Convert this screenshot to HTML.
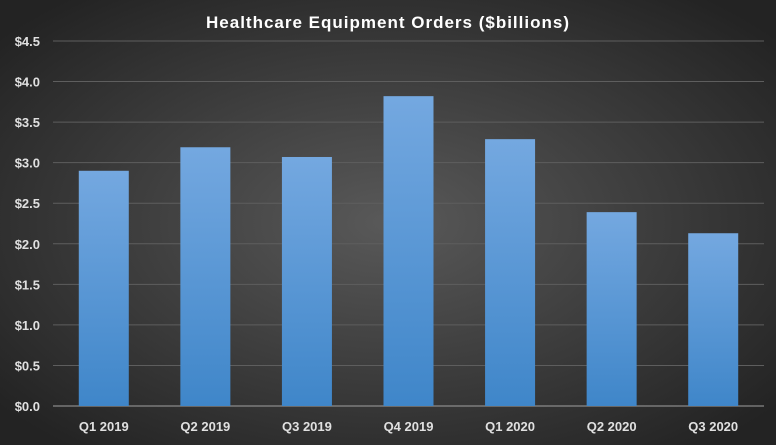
<!DOCTYPE html>
<html><head><meta charset="utf-8"><style>
html,body{margin:0;padding:0;width:776px;height:445px;overflow:hidden;}
svg{display:block;font-family:"Liberation Sans",sans-serif;}
</style></head><body>
<svg id="chart" width="776" height="445">
<defs>
<radialGradient id="bg" cx="50%" cy="50%" r="65%">
<stop offset="0" stop-color="#595959"/><stop offset="1" stop-color="#232323"/>
</radialGradient>
<linearGradient id="barg" x1="0" y1="0" x2="0" y2="1">
<stop offset="0" stop-color="#74a8e0"/><stop offset="1" stop-color="#3f86c9"/>
</linearGradient>
</defs>
<rect width="776" height="445" fill="url(#bg)"/>
<text x="388" y="28" text-anchor="middle" fill="#fff" font-size="17" font-weight="bold" letter-spacing="1">Healthcare Equipment Orders ($billions)</text>
<g id="grid"></g><g id="bars"></g><g id="labels"></g>
</svg>
<script>
const categories=["Q1 2019","Q2 2019","Q3 2019","Q4 2019","Q1 2020","Q2 2020","Q3 2020"];
const values=[2.90,3.19,3.07,3.82,3.29,2.39,2.13];
const ticks=[0,0.5,1,1.5,2,2.5,3,3.5,4,4.5];
const NS="http://www.w3.org/2000/svg";
const plotLeft=53,plotRight=764,plotTop=41,plotBottom=406,ymax=4.5;
const yScale=v=>plotBottom-(v/ymax)*(plotBottom-plotTop);
const step=(plotRight-plotLeft)/categories.length;
const xScale=i=>plotLeft+step*(i+0.5);
function mk(t,a,p){const e=document.createElementNS(NS,t);for(const k in a)e.setAttribute(k,a[k]);p.appendChild(e);return e;}
const g=document.getElementById('grid'),b=document.getElementById('bars'),l=document.getElementById('labels');
ticks.forEach(t=>{
 const ln=mk('line',{x1:plotLeft,x2:plotRight,y1:yScale(t),y2:yScale(t),stroke:t===0?'#a0a0a0':'#5e5e5e','stroke-width':1},g);
 
 
 const tx=mk('text',{x:40,y:yScale(t)+5,'text-anchor':'end',fill:'#e0e0e0','font-size':13,'font-weight':'bold'},l);
 tx.textContent='$'+t.toFixed(1);
 
 
});
categories.forEach((c,i)=>{
 const r=mk('rect',{x:xScale(i)-25,y:yScale(values[i]),width:50,height:plotBottom-yScale(values[i]),fill:'url(#barg)'},b);
 
 
 const tx=mk('text',{x:xScale(i),y:431,'text-anchor':'middle',fill:'#e0e0e0','font-size':13,'font-weight':'bold'},l);
 tx.textContent=c;
 
 
});
</script>
</body></html>
